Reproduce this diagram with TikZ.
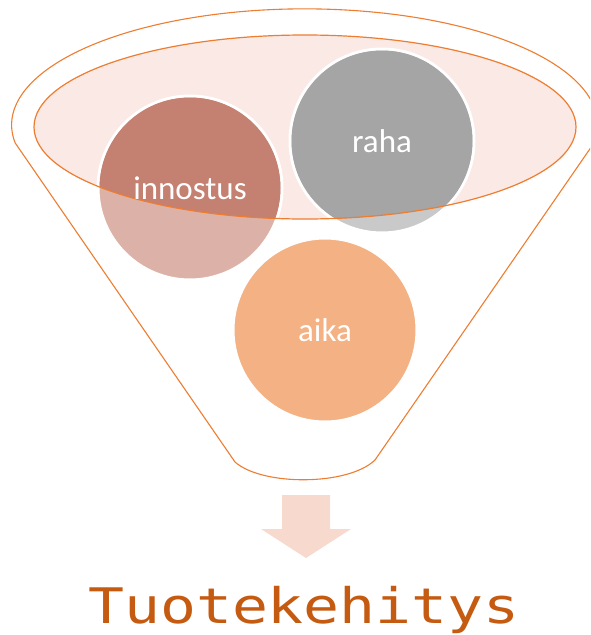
\documentclass[tikz,border=0pt]{standalone}
\usepackage{fontspec}
\setmainfont{Carlito}
\newfontfamily\titlefont{DejaVu Sans Mono}
\definecolor{funnelorange}{HTML}{ED7D31}
\definecolor{rimpink}{HTML}{FBE9E5}
\definecolor{innodark}{HTML}{C48070}
\definecolor{innolight}{HTML}{DCB2A8}
\definecolor{rahadark}{HTML}{A5A5A5}
\definecolor{rahalight}{HTML}{C9C9C9}
\definecolor{aikafill}{HTML}{F4B183}
\definecolor{arrowpink}{HTML}{F8D9CD}
\definecolor{titleorange}{HTML}{C55A11}
\tikzset{
  ball/.style={circle, minimum size=184pt, inner sep=0pt, draw=white, line width=3pt},
  balltext/.style={text=white, font=\fontsize{33}{40}\selectfont},
  funnel/.style={draw=funnelorange, line width=1.1pt},
}
\begin{document}
\begin{tikzpicture}[x=1pt, y=-1pt]
    \useasboundingbox (0,0) rectangle (590,635);
    \clip (0,0) rectangle (590,635);

    % funnel body and rim
    \draw[funnel] (375,460) -- (594,143)
      arc[start angle=9, end angle=-189, x radius=293, y radius=116]
      -- (235,462) .. controls (262,486) and (348,486) .. (375,460);
    \fill[rimpink] (305,127) ellipse[x radius=271, y radius=92];

    \node[ball, fill=innolight] (innostus) at (190,188) {};
    \node[ball, fill=rahalight] (raha) at (382,141) {};
    \node[ball, fill=aikafill] (aika) at (325,330) {};

    \begin{scope}
      \clip (305,127) ellipse[x radius=271, y radius=92];
      \foreach \n/\c in {innostus/innodark, raha/rahadark}
        \fill[\c] (\n.center) circle[radius=90.5];
    \end{scope}
    \draw[funnel, line width=1.2pt] (305,127) ellipse[x radius=271, y radius=92];

    \foreach \n in {innostus, raha, aika}
      \node[balltext] (\n-label) at (\n) {\n};

    % arrow and result
    \fill[arrowpink] (282,495) -- (330,495) -- (330,529) -- (351,529)
      -- (306,558) -- (261,529) -- (282,529) -- cycle;
    \node[anchor=base, text=titleorange, font=\titlefont\fontsize{49}{56}\selectfont]
      (tuote) at (304,623) {\scalebox{1.22}[1]{Tuotekehitys}};
\end{tikzpicture}
\end{document}
